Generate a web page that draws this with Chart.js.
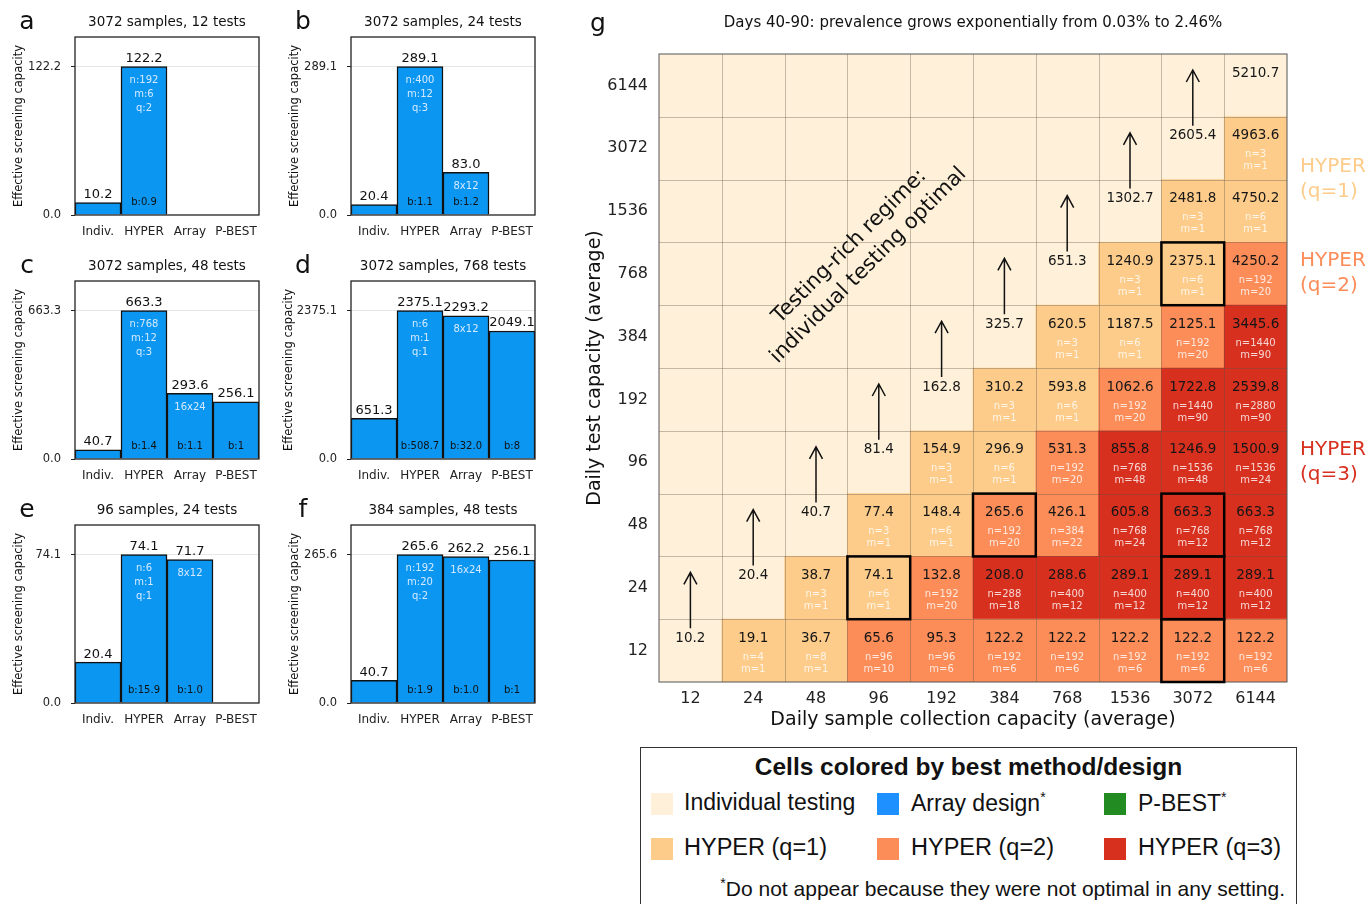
<!DOCTYPE html>
<html>
<head>
<meta charset="utf-8">
<script src="https://cdn.jsdelivr.net/npm/chart.js@4/dist/chart.umd.min.js"></script>
<style>
body{margin:0;background:#fff;width:1368px;height:904px;overflow:hidden;position:relative;font-family:"DejaVu Sans",sans-serif}
canvas{position:absolute}
.leg{position:absolute;font-family:"Liberation Sans",Arial,sans-serif;color:#111;white-space:nowrap}
.sw{position:absolute;width:22px;height:22px}
</style>
</head>
<body>
<canvas id="pa" width="280" height="245" style="left:0;top:0"></canvas>
<canvas id="pb" width="280" height="245" style="left:276px;top:0"></canvas>
<canvas id="pc" width="280" height="245" style="left:0;top:244px"></canvas>
<canvas id="pd" width="280" height="245" style="left:276px;top:244px"></canvas>
<canvas id="pe" width="280" height="245" style="left:0;top:488px"></canvas>
<canvas id="pf" width="280" height="245" style="left:276px;top:488px"></canvas>
<canvas id="heat" width="808" height="740" style="left:560px;top:0"></canvas>

<div class="leg" style="left:640px;top:747px;width:657px;height:180px;border:1px solid #333;box-sizing:border-box"></div>
<div class="leg" style="left:640px;width:657px;top:753px;text-align:center;font-size:24.5px;font-weight:bold">Cells colored by best method/design</div>
<div class="sw" style="left:651px;top:793px;background:#fef0d9"></div>
<div class="leg" style="left:684px;top:789px;font-size:23px">Individual testing</div>
<div class="sw" style="left:877px;top:793px;background:#1e90ff"></div>
<div class="leg" style="left:911px;top:789px;font-size:23px">Array design<sup style="font-size:14px">*</sup></div>
<div class="sw" style="left:1104px;top:793px;background:#228b22"></div>
<div class="leg" style="left:1138px;top:789px;font-size:23px">P-BEST<sup style="font-size:14px">*</sup></div>
<div class="sw" style="left:651px;top:838px;background:#fdcc8a"></div>
<div class="leg" style="left:684px;top:834px;font-size:23.5px">HYPER (q=1)</div>
<div class="sw" style="left:877px;top:838px;background:#fc8d59"></div>
<div class="leg" style="left:911px;top:834px;font-size:23.5px">HYPER (q=2)</div>
<div class="sw" style="left:1104px;top:838px;background:#d7301f"></div>
<div class="leg" style="left:1138px;top:834px;font-size:23.5px">HYPER (q=3)</div>
<div class="leg" style="right:83px;top:875px;font-size:21px"><sup style="font-size:14px">*</sup>Do not appear because they were not optimal in any setting.</div>

<script>
const FONT = '"DejaVu Sans", sans-serif'
Chart.defaults.font.family = FONT

// ---- panels a-f ----
const methods = ['Indiv.', 'HYPER', 'Array', 'P-BEST']
const letters = ['a', 'b', 'c', 'd', 'e', 'f']
const titles = ['3072 samples, 12 tests', '3072 samples, 24 tests', '3072 samples, 48 tests',
  '3072 samples, 768 tests', '96 samples, 24 tests', '384 samples, 48 tests']
const capA = [10.2, 122.2, null, null]
const capB = [20.4, 289.1, 83.0, null]
const capC = [40.7, 663.3, 293.6, 256.1]
const capD = [651.3, 2375.1, 2293.2, 2049.1]
const capE = [20.4, 74.1, 71.7, null]
const capF = [40.7, 265.6, 262.2, 256.1]
const designA = [[], ['n:192', 'm:6', 'q:2'], [], []]
const designB = [[], ['n:400', 'm:12', 'q:3'], ['8x12'], []]
const designC = [[], ['n:768', 'm:12', 'q:3'], ['16x24'], []]
const designD = [[], ['n:6', 'm:1', 'q:1'], ['8x12'], []]
const designE = [[], ['n:6', 'm:1', 'q:1'], ['8x12'], []]
const designF = [[], ['n:192', 'm:20', 'q:2'], ['16x24'], []]
const bA = ['', 'b:0.9', '', '']
const bB = ['', 'b:1.1', 'b:1.2', '']
const bC = ['', 'b:1.4', 'b:1.1', 'b:1']
const bD = ['', 'b:508.7', 'b:32.0', 'b:8']
const bE = ['', 'b:15.9', 'b:1.0', '']
const bF = ['', 'b:1.9', 'b:1.0', 'b:1']

// ---- panel g ----
const sampleCaps = [12, 24, 48, 96, 192, 384, 768, 1536, 3072, 6144]
const testCaps = [12, 24, 48, 96, 192, 384, 768, 1536, 3072, 6144]
// one row per test capacity, null = blank cell
const cap12 = [10.2, 19.1, 36.7, 65.6, 95.3, 122.2, 122.2, 122.2, 122.2, 122.2]
const cap24 = [null, 20.4, 38.7, 74.1, 132.8, 208.0, 288.6, 289.1, 289.1, 289.1]
const cap48 = [null, null, 40.7, 77.4, 148.4, 265.6, 426.1, 605.8, 663.3, 663.3]
const cap96 = [null, null, null, 81.4, 154.9, 296.9, 531.3, 855.8, 1246.9, 1500.9]
const cap192 = [null, null, null, null, 162.8, 310.2, 593.8, 1062.6, 1722.8, 2539.8]
const cap384 = [null, null, null, null, null, 325.7, 620.5, 1187.5, 2125.1, 3445.6]
const cap768 = [null, null, null, null, null, null, 651.3, 1240.9, 2375.1, 4250.2]
const cap1536 = [null, null, null, null, null, null, null, 1302.7, 2481.8, 4750.2]
const cap3072 = [null, null, null, null, null, null, null, null, 2605.4, 4963.6]
const cap6144 = [null, null, null, null, null, null, null, null, null, 5210.7]
// best method: 0 individual, 1/2/3 HYPER q
const best12 = [0, 1, 1, 2, 2, 2, 2, 2, 2, 2]
const best24 = [0, 0, 1, 1, 2, 3, 3, 3, 3, 3]
const best48 = [0, 0, 0, 1, 1, 2, 2, 3, 3, 3]
const best96 = [0, 0, 0, 0, 1, 1, 2, 3, 3, 3]
const best192 = [0, 0, 0, 0, 0, 1, 1, 2, 3, 3]
const best384 = [0, 0, 0, 0, 0, 0, 1, 1, 2, 3]
const best768 = [0, 0, 0, 0, 0, 0, 0, 1, 1, 2]
const best1536 = [0, 0, 0, 0, 0, 0, 0, 0, 1, 1]
const best3072 = [0, 0, 0, 0, 0, 0, 0, 0, 0, 1]
const best6144 = [0, 0, 0, 0, 0, 0, 0, 0, 0, 0]
const n12 = [null, 4, 8, 96, 96, 192, 192, 192, 192, 192]
const m12 = [null, 1, 1, 10, 6, 6, 6, 6, 6, 6]
const n24 = [null, null, 3, 6, 192, 288, 400, 400, 400, 400]
const m24 = [null, null, 1, 1, 20, 18, 12, 12, 12, 12]
const n48 = [null, null, null, 3, 6, 192, 384, 768, 768, 768]
const m48 = [null, null, null, 1, 1, 20, 22, 24, 12, 12]
const n96 = [null, null, null, null, 3, 6, 192, 768, 1536, 1536]
const m96 = [null, null, null, null, 1, 1, 20, 48, 48, 24]
const n192 = [null, null, null, null, null, 3, 6, 192, 1440, 2880]
const m192 = [null, null, null, null, null, 1, 1, 20, 90, 90]
const n384 = [null, null, null, null, null, null, 3, 6, 192, 1440]
const m384 = [null, null, null, null, null, null, 1, 1, 20, 90]
const n768 = [null, null, null, null, null, null, null, 3, 6, 192]
const m768 = [null, null, null, null, null, null, null, 1, 1, 20]
const n1536 = [null, null, null, null, null, null, null, null, 3, 6]
const m1536 = [null, null, null, null, null, null, null, null, 1, 1]
const n3072 = [null, null, null, null, null, null, null, null, null, 3]
const m3072 = [null, null, null, null, null, null, null, null, null, 1]
const n6144 = [null, null, null, null, null, null, null, null, null, null]
const m6144 = [null, null, null, null, null, null, null, null, null, null]
// highlighted cells [samples, tests]
const boxed = [[96, 24], [384, 48], [3072, 48], [3072, 24], [3072, 12], [3072, 768]]

const methodColors = ['#fef0d9', '#fdcc8a', '#fc8d59', '#d7301f']
const BLUE = '#0b96f2'

const capRows = [cap12, cap24, cap48, cap96, cap192, cap384, cap768, cap1536, cap3072, cap6144]
const bestRows = [best12, best24, best48, best96, best192, best384, best768, best1536, best3072, best6144]
const nRows = [n12, n24, n48, n96, n192, n384, n768, n1536, n3072, n6144]
const mRows = [m12, m24, m48, m96, m192, m384, m768, m1536, m3072, m6144]

const barText = {
  id: 'barText',
  afterDatasetsDraw(chart, args, opts) {
    const ctx = chart.ctx
    const a = chart.chartArea
    ctx.save()
    ctx.textAlign = 'center'
    ctx.textBaseline = 'middle'
    chart.getDatasetMeta(0).data.forEach((el, i) => {
      const v = chart.data.datasets[0].data[i]
      if (v == null) return
      ctx.fillStyle = '#111'
      ctx.font = '13px ' + FONT
      ctx.fillText(v.toFixed(1), el.x, el.y - 8)
      ctx.fillStyle = '#d4eaff'
      ctx.font = '10px ' + FONT
      opts.design[i].forEach((t, k) => ctx.fillText(t, el.x, el.y + 14 + 14 * k))
      ctx.fillStyle = '#111'
      ctx.fillText(opts.blocks[i], el.x, el.base - 12)
    })
    // frame
    ctx.strokeStyle = '#222'
    ctx.lineWidth = 1.3
    ctx.strokeRect(a.left, a.top, a.right - a.left, a.bottom - a.top)
    // titles
    ctx.fillStyle = '#111'
    ctx.font = '13.5px ' + FONT
    ctx.fillText(opts.title, (a.left + a.right) / 2, 22)
    ctx.font = '25px ' + FONT
    ctx.fillText(opts.letter, 27, 22)
    // y title sits left of the widest tick label
    ctx.font = '11.5px ' + FONT
    const w = ctx.measureText(opts.maxLabel).width
    ctx.translate(Math.min(19, a.left - 14 - w - 8), (a.top + a.bottom) / 2)
    ctx.rotate(-Math.PI / 2)
    ctx.fillText('Effective screening capacity', 0, 0)
    ctx.restore()
  }
}

function smallChart(id, k, caps, design, blocks) {
  const top = Math.max(...caps.filter(v => v != null))
  new Chart(document.getElementById(id), {
    type: 'bar',
    data: {
      labels: methods,
      datasets: [{
        data: caps,
        backgroundColor: BLUE,
        borderColor: '#111',
        borderWidth: 1.5,
        barPercentage: 1,
        categoryPercentage: 1
      }]
    },
    options: {
      responsive: false,
      animation: false,
      layout: { padding: { top: 37, right: 21, left: 0, bottom: 0 } },
      plugins: {
        legend: { display: false },
        tooltip: { enabled: false },
        barText: { design: design, blocks: blocks, title: titles[k], letter: letters[k], maxLabel: top.toFixed(1) }
      },
      scales: {
        x: {
          grid: { display: false, drawTicks: false },
          border: { display: false },
          ticks: { font: { size: 12 }, color: '#222', padding: 10, maxRotation: 0, minRotation: 0, autoSkip: false },
          afterFit: s => { s.height = 30 }
        },
        y: {
          min: 0,
          max: top * 1.2,
          afterBuildTicks: s => { s.ticks = [{ value: 0 }, { value: top }] },
          ticks: { callback: v => v.toFixed(1), font: { size: 11.5 }, color: '#222', padding: 10 },
          grid: {
            color: c => (c.tick && c.tick.value > 0) ? '#e6e6e6' : 'rgba(0,0,0,0)',
            tickColor: '#222',
            tickLength: 4
          },
          border: { display: false },
          afterFit: s => { s.width = 75 }
        }
      }
    },
    plugins: [barText]
  })
}

smallChart('pa', 0, capA, designA, bA)
smallChart('pb', 1, capB, designB, bB)
smallChart('pc', 2, capC, designC, bC)
smallChart('pd', 3, capD, designD, bD)
smallChart('pe', 4, capE, designE, bE)
smallChart('pf', 5, capF, designF, bF)

// heatmap overlay: grid, cell texts, arrows, boxes, titles
const heatText = {
  id: 'heatText',
  afterDatasetsDraw(chart) {
    const ctx = chart.ctx
    const a = chart.chartArea
    const xs = chart.scales.x
    const ys = chart.scales.y
    const cell = (r, c) => chart.getDatasetMeta(r).data[c]
    ctx.save()
    // grid
    ctx.strokeStyle = 'rgba(90,80,70,0.35)'
    ctx.lineWidth = 1
    ctx.beginPath()
    for (let i = 1; i < sampleCaps.length; i++) {
      const x = Math.round((xs.getPixelForValue(i - 1) + xs.getPixelForValue(i)) / 2) + 0.5
      ctx.moveTo(x, a.top); ctx.lineTo(x, a.bottom)
    }
    for (let i = 1; i < testCaps.length; i++) {
      const y = Math.round(ys.getPixelForValue(i)) + 0.5
      ctx.moveTo(a.left, y); ctx.lineTo(a.right, y)
    }
    ctx.stroke()
    ctx.strokeStyle = '#555'
    ctx.strokeRect(a.left, a.top, a.right - a.left, a.bottom - a.top)

    ctx.textAlign = 'center'
    ctx.textBaseline = 'middle'
    capRows.forEach((row, r) => {
      row.forEach((v, c) => {
        const el = cell(r, c)
        const top = el.y
        if (v != null) {
          ctx.fillStyle = '#161616'
          ctx.font = '13.5px ' + FONT
          ctx.fillText(v.toFixed(1), el.x, top + 19)
          if (nRows[r][c] != null) {
            ctx.fillStyle = 'rgba(255,255,255,0.8)'
            ctx.font = '10px ' + FONT
            ctx.fillText('n=' + nRows[r][c], el.x, top + 38)
            ctx.fillText('m=' + mRows[r][c], el.x, top + 50)
          }
        } else if (r > 0 && capRows[r - 1][c] != null) {
          // arrow up from the value below
          const head = top + 16
          const tail = el.base + 9
          ctx.strokeStyle = '#111'
          ctx.lineWidth = 1.5
          ctx.beginPath()
          ctx.moveTo(el.x, tail); ctx.lineTo(el.x, head)
          ctx.moveTo(el.x - 6.5, head + 12); ctx.lineTo(el.x, head); ctx.lineTo(el.x + 6.5, head + 12)
          ctx.stroke()
        }
      })
    })
    // highlighted cells
    ctx.strokeStyle = '#000'
    ctx.lineWidth = 2.5
    boxed.forEach(([s, t]) => {
      const el = cell(testCaps.indexOf(t), sampleCaps.indexOf(s))
      ctx.strokeRect(el.x - el.width / 2, el.y, el.width, el.base - el.y)
    })
    // titles
    ctx.fillStyle = '#111'
    ctx.font = '15px ' + FONT
    ctx.fillText('Days 40-90: prevalence grows exponentially from 0.03% to 2.46%', (a.left + a.right) / 2, 23)
    ctx.font = '25px ' + FONT
    ctx.fillText('g', 38, 24)
    ctx.font = '19px ' + FONT
    ctx.fillText('Daily sample collection capacity (average)', (a.left + a.right) / 2, 720)
    ctx.save()
    ctx.translate(35, (a.top + a.bottom) / 2)
    ctx.rotate(-Math.PI / 2)
    ctx.fillText('Daily test capacity (average)', 0, 0)
    ctx.restore()
    // annotation
    ctx.save()
    ctx.translate(299, 256)
    ctx.rotate(-Math.PI / 4)
    ctx.font = '21px ' + FONT
    ctx.fillText('Testing-rich regime:', 0, -13.5)
    ctx.fillText('individual testing optimal', 0, 13.5)
    ctx.restore()
    // side labels
    ctx.textAlign = 'left'
    ctx.font = '20px ' + FONT
    const side = [[1, 167], [2, 261], [3, 450]]
    side.forEach(([q, y]) => {
      ctx.fillStyle = methodColors[q]
      ctx.fillText('HYPER', a.right + 13, y)
      ctx.fillText('(q=' + q + ')', a.right + 13, y + 25)
    })
    ctx.restore()
  }
}

new Chart(document.getElementById('heat'), {
  type: 'bar',
  data: {
    labels: sampleCaps.map(String),
    datasets: testCaps.map((t, r) => ({
      label: String(t),
      data: sampleCaps.map(() => 1),
      backgroundColor: bestRows[r].map(k => methodColors[k]),
      borderWidth: 0,
      barPercentage: 1,
      categoryPercentage: 1
    }))
  },
  options: {
    responsive: false,
    animation: false,
    layout: { padding: { left: 0, top: 54, right: 81, bottom: 0 } },
    plugins: { legend: { display: false }, tooltip: { enabled: false } },
    scales: {
      x: {
        stacked: true,
        grid: { display: false, drawTicks: false },
        border: { display: false },
        ticks: { font: { size: 16 }, color: '#222', padding: 7, maxRotation: 0 },
        afterFit: s => { s.height = 58 }
      },
      y: {
        stacked: true,
        min: 0,
        max: testCaps.length,
        grid: { display: false, drawTicks: false },
        border: { display: false },
        afterBuildTicks: s => { s.ticks = testCaps.map((t, i) => ({ value: i + 0.5 })) },
        ticks: { callback: v => String(testCaps[Math.floor(v)]), font: { size: 16 }, color: '#222', padding: 11 },
        afterFit: s => { s.width = 99 }
      }
    }
  },
  plugins: [heatText]
})
</script>
</body>
</html>
